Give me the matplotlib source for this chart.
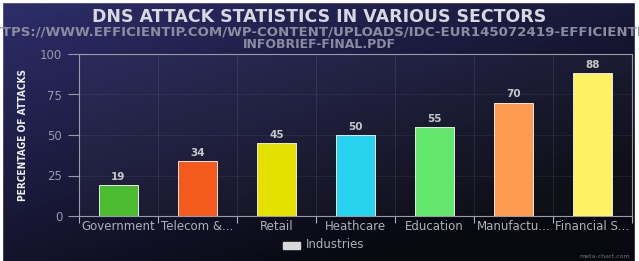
import numpy as np
import matplotlib
matplotlib.use("Agg")
import matplotlib.pyplot as plt
from matplotlib.patches import Rectangle

# data
categories = ["Government", "Telecom &...", "Retail", "Heathcare",
              "Education", "Manufactu...", "Financial S..."]
values = [19, 34, 45, 50, 55, 70, 88]
colors = ["#4cbb2f", "#f35a1c", "#e4e100", "#27d2ee",
          "#63e66c", "#ff9b50", "#fff163"]
yticks = [0, 25, 50, 75, 100]

fig = plt.figure(figsize=(6.39, 2.61), dpi=100)

# gradient background (navy top-left -> near black bottom-right)
bg = fig.add_axes([0, 0, 1, 1], zorder=0)
h, w = 261, 639
yy, xx = np.mgrid[0:h, 0:w]
t = np.clip((xx / w) * 0.55 + (yy / h) * 0.7, 0, 1)
c0 = np.array([46, 46, 108]) / 255
c1 = np.array([8, 8, 16]) / 255
img = c0[None, None, :] * (1 - t[..., None]) + c1[None, None, :] * t[..., None]
bg.imshow(img, aspect="auto", extent=[0, 1, 0, 1], origin="upper")
bg.set_xlim(0, 1)
bg.set_ylim(0, 1)
bg.axis("off")
# thin white frame at top / left / right
bg.add_patch(Rectangle((0, 0.992), 1, 0.01, color="white", transform=bg.transAxes))
bg.add_patch(Rectangle((0, 0), 0.003, 1, color="white", transform=bg.transAxes))
bg.add_patch(Rectangle((0.994, 0), 0.01, 1, color="white", transform=bg.transAxes))

ax = fig.add_axes([79 / 639, 1 - 216 / 261, 553 / 639, 162 / 261], zorder=1)
ax.set_facecolor((1, 1, 1, 0.03))

x = np.arange(len(categories))
bars = ax.bar(x, values, width=0.5, color=colors, edgecolor="#e8e8e8",
              linewidth=0.7, zorder=3)
for xi, v in zip(x, values):
    ax.text(xi, v + 2, str(v), ha="center", va="bottom", fontsize=7.5,
            fontweight="bold", color="#c8c8c8", zorder=4)

ax.set_xlim(-0.5, len(categories) - 0.5)
ax.set_ylim(0, 100)
ax.set_yticks(yticks)
ax.set_yticklabels([str(v) for v in yticks], fontsize=8.5, color="#9a9aa8")
ax.set_xticks(x)
ax.set_xticklabels(categories, fontsize=8.5, color="#b0b0b8")
ax.tick_params(axis="x", length=0, pad=3)
ax.tick_params(axis="y", length=8, color="#9a9aa8", width=0.8, pad=4)
# category boundary ticks and grid
ax.set_xticks(np.arange(-0.5, len(categories), 1), minor=True)
ax.tick_params(axis="x", which="minor", length=5, color="#b0b0b8", width=0.8)
ax.grid(True, which="minor", axis="x", color="#ffffff", alpha=0.08, linewidth=0.8)
ax.grid(True, which="major", axis="y", color="#ffffff", alpha=0.06, linewidth=0.8)
ax.set_axisbelow(True)
for s in ax.spines.values():
    s.set_color("#9a9aa8")
    s.set_linewidth(0.8)

ax.set_ylabel("PERCENTAGE OF ATTACKS", fontsize=7.2, fontweight="bold",
              color="#f0f0f0", family="DejaVu Sans", fontstretch="condensed",
              labelpad=9)

fig.text(0.5, 1 - 17 / 261, "DNS ATTACK STATISTICS IN VARIOUS SECTORS",
         ha="center", va="center", fontsize=12.5, fontweight="bold", color="#d8d8e0")
fig.text(0.5, 1 - 32 / 261,
         "HTTPS://WWW.EFFICIENTIP.COM/WP-CONTENT/UPLOADS/IDC-EUR145072419-EFFICIENTIP-",
         ha="center", va="center", fontsize=9.6, fontweight="bold", color="#8c8ca0")
fig.text(0.5, 1 - 45 / 261, "INFOBRIEF-FINAL.PDF",
         ha="center", va="center", fontsize=9, fontweight="bold", color="#8c8ca0")

# legend
fig.patches.append(Rectangle((283 / 639, 1 - 249 / 261), 17 / 639, 7 / 261,
                             transform=fig.transFigure, color="#d8d8d8", zorder=5))
fig.text(306 / 639, 1 - 245 / 261, "Industries", ha="left", va="center",
         fontsize=8.5, color="#b0b0b8")
fig.text(630 / 639, 1 - 256 / 261, "meta-chart.com", ha="right", va="center",
         fontsize=4.5, color="#70707a")

fig.savefig("out.png", dpi=100)
